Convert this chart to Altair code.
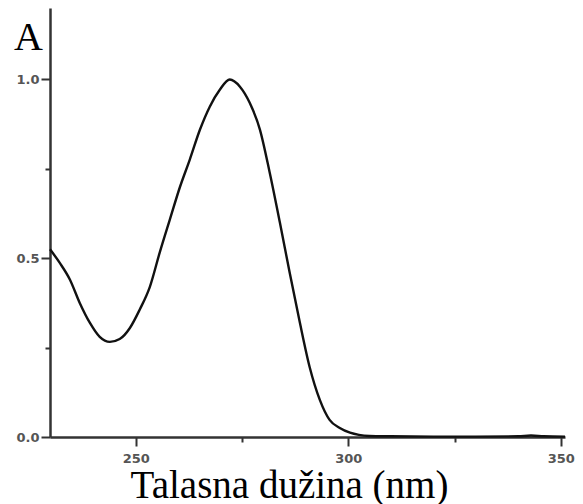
import altair as alt
import pandas as pd

wavelength = [229.8, 232.1, 234.5, 236.8, 239.2, 241.5, 243.9, 246.2, 248.6, 250.9,
              253.3, 255.6, 258.0, 260.4, 262.7, 265.1, 267.4, 269.8, 272.1, 274.5,
              276.8, 279.2, 281.5, 283.9, 286.2, 288.6, 290.9, 293.3, 295.6, 298.0,
              300.4, 302.5, 305.0, 310.0, 320.0, 330.0, 340.0, 343.0, 346.0, 351.0]
absorbance = [0.525, 0.487, 0.44, 0.375, 0.319, 0.28, 0.266, 0.274, 0.305, 0.356,
              0.42, 0.515, 0.608, 0.70, 0.776, 0.86, 0.924, 0.972, 1.0, 0.98,
              0.935, 0.86, 0.74, 0.60, 0.46, 0.32, 0.196, 0.104, 0.048, 0.025,
              0.012, 0.006, 0.003, 0.002, 0.001, 0.001, 0.002, 0.004, 0.002, 0.001]

x_ticks = [250, 275, 300, 325, 350]
y_ticks = [0.0, 0.25, 0.5, 0.75, 1.0]
panel_label = ["A"]
x_title = "Talasna dužina (nm)"

df = pd.DataFrame({"nm": wavelength, "abs": absorbance})

x_axis = alt.Axis(
    values=x_ticks,
    title=x_title,
    titleFont="Liberation Serif",
    titleFontSize=39,
    titleFontWeight="normal",
    titleColor="#000000",
    titleX=239,
    titleY=60,
    titleBaseline="alphabetic",
    labelExpr="datum.value % 50 === 0 ? datum.label : ''",
    labelFont="DejaVu Sans",
    labelFontWeight="bold",
    labelFontSize=13,
    labelColor="#555555",
    labelPadding=6,
    tickSize={"condition": {"test": "datum.value % 50 === 0", "value": 9}, "value": 5},
    tickColor="#333333",
    tickWidth=2,
    domainColor="#333333",
    domainWidth=2.5,
    grid=False,
)

y_axis = alt.Axis(
    values=y_ticks,
    title=None,
    format=".1f",
    labelExpr="(datum.value * 4) % 2 === 0 ? datum.label : ''",
    labelFont="DejaVu Sans",
    labelFontWeight="bold",
    labelFontSize=13,
    labelColor="#555555",
    labelPadding=2,
    tickSize={"condition": {"test": "(datum.value * 4) % 2 === 0", "value": 9}, "value": 5},
    tickColor="#333333",
    tickWidth=2,
    domainColor="#333333",
    domainWidth=2.5,
    grid=False,
)

line = alt.Chart(df).mark_line(color="#111111", strokeWidth=2.4, interpolate="monotone").encode(
    x=alt.X("nm:Q", scale=alt.Scale(domain=[229.8, 351], nice=False, zero=False), axis=x_axis),
    y=alt.Y("abs:Q", scale=alt.Scale(domain=[0, 1.2], nice=False), axis=y_axis),
)

label = alt.Chart(pd.DataFrame({"t": panel_label})).mark_text(
    font="Liberation Serif", fontSize=40, align="left", baseline="alphabetic", color="#000000"
).encode(text="t:N", x=alt.value(-36), y=alt.value(42))

chart = alt.layer(line, label).properties(
    width=515,
    height=429,
    background="white",
    autosize=alt.AutoSizeParams(type="none"),
    padding={"left": 42, "top": 0, "right": 10, "bottom": 72},
).configure_view(stroke=None)

chart.save("out.html", embed_options={"renderer": "svg", "actions": False})
